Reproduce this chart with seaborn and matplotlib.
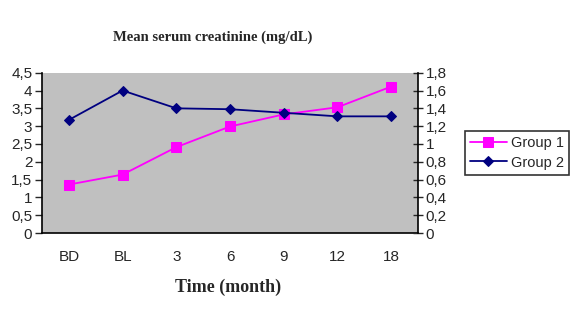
import numpy as np
import pandas as pd
import seaborn as sns
import matplotlib
matplotlib.use("Agg")
import matplotlib.pyplot as plt
from matplotlib.ticker import FixedLocator, FuncFormatter, MultipleLocator

# Values
months = ["BD", "BL", "3", "6", "9", "12", "18"]
group1 = [1.36, 1.64, 2.41, 2.99, 3.33, 3.53, 4.11]   # left axis
group2 = [1.27, 1.60, 1.40, 1.39, 1.35, 1.31, 1.31]   # right axis

df1 = pd.DataFrame({"month": months, "value": group1})
df2 = pd.DataFrame({"month": months, "value": group2})

sns.set_style("white")
plt.rcParams["font.family"] = ["Liberation Sans", "DejaVu Sans"]


def comma(v, pos):
    s = ("%.1f" % v).rstrip("0").rstrip(".")
    return s.replace(".", ",")


fig = plt.figure(figsize=(5.78, 3.11), dpi=100)
ax = fig.add_axes([0.0727, 0.2508, 0.6505, 0.5154])
ax2 = ax.twinx()

ax.set_facecolor("#C0C0C0")
sns.lineplot(data=df1, x="month", y="value", ax=ax, color="#FF00FF",
             marker="s", markersize=7, markeredgecolor="#FF00FF",
             linewidth=1.3, sort=False, label="Group 1", legend=False)
sns.lineplot(data=df2, x="month", y="value", ax=ax2, color="#000080",
             marker="D", markersize=5.5, markeredgecolor="#000080",
             linewidth=1.3, sort=False, label="Group 2", legend=False)

ax.set_xlim(-0.5, len(months) - 0.5)
ax.set_ylim(0, 4.5)
ax2.set_ylim(0, 1.8)
ax.yaxis.set_major_locator(MultipleLocator(0.5))
ax2.yaxis.set_major_locator(MultipleLocator(0.2))
ax.yaxis.set_major_formatter(FuncFormatter(comma))
ax2.yaxis.set_major_formatter(FuncFormatter(comma))

# category labels centred, tick marks on the boundaries
ax.xaxis.set_minor_locator(FixedLocator(np.arange(-0.5, len(months), 1.0)))
ax.tick_params(axis="x", which="major", length=0, pad=12, labelsize=11)
ax.tick_params(axis="x", which="minor", length=6, width=1, direction="inout")
ax.tick_params(axis="y", length=5, width=1, direction="out", labelsize=11, pad=2)
ax2.tick_params(axis="y", length=7, width=1, direction="inout", labelsize=11, pad=2)

for a in (ax, ax2):
    for s in a.spines.values():
        s.set_visible(False)
ax.spines["left"].set_visible(True)
ax.spines["bottom"].set_visible(True)
ax2.spines["right"].set_visible(True)
for s in (ax.spines["left"], ax.spines["bottom"], ax2.spines["right"]):
    s.set_color("black")
    s.set_linewidth(1.2)

ax.set_xlabel("")
ax.set_ylabel("")
ax2.set_ylabel("")

fig.text(0.368, 0.88, "Mean serum creatinine (mg/dL)", ha="center", va="center",
         family="Liberation Serif", fontweight="bold", fontsize=10.5)
fig.text(0.395, 0.077, "Time (month)", ha="center", va="center",
         family="Liberation Serif", fontweight="bold", fontsize=13)

h1, l1 = ax.get_legend_handles_labels()
h2, l2 = ax2.get_legend_handles_labels()
leg = fig.legend(h1 + h2, l1 + l2, loc="center left",
                 bbox_to_anchor=(0.8045, 0.508), fontsize=10.5, frameon=True,
                 fancybox=False, edgecolor="black", handlelength=2.5,
                 borderpad=0.35, labelspacing=0.35, handletextpad=0.3,
                 borderaxespad=0)
leg.get_frame().set_linewidth(1.2)

plt.savefig("out.png", dpi=100)
